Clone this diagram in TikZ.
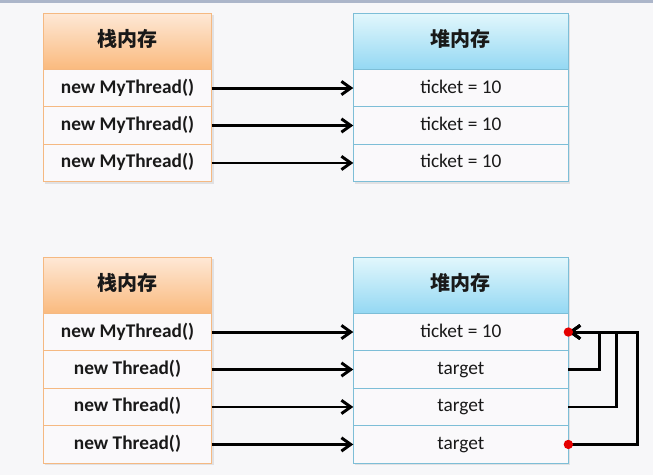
\documentclass[tikz,border=0pt]{standalone}
\usepackage{fontspec}
\setmainfont{Carlito}
\newfontfamily\cjk{Noto Sans CJK SC}
\usetikzlibrary{arrows.meta,positioning,shadows}
\definecolor{stackline}{RGB}{245,185,130}
\definecolor{stacktop}{RGB}{254,232,214}
\definecolor{stackbot}{RGB}{250,186,126}
\definecolor{heapline}{RGB}{125,190,215}
\definecolor{heaptop}{RGB}{226,247,252}
\definecolor{heapbot}{RGB}{148,216,243}
\definecolor{cellfill}{RGB}{250,249,251}
\definecolor{pagebg}{RGB}{247,247,249}
\definecolor{topbar}{RGB}{172,182,202}
\definecolor{txt}{RGB}{25,25,25}

\begin{document}
\begin{tikzpicture}[
            x=0.75pt, y=-0.75pt,
            cell/.style={rectangle, fill=cellfill, line width=0.8pt, inner sep=0pt, outer sep=0pt, minimum height=28.1pt, text height=10.5pt, text depth=3pt, text=txt, font=\fontsize{14.5}{17}\selectfont, drop shadow={opacity=0.18, shadow xshift=1.5pt, shadow yshift=-1.5pt}},
            stackhead/.style={cell, draw=stackline, top color=stacktop, bottom color=stackbot, minimum width=126.3pt, minimum height=42pt, font=\cjk\bfseries\fontsize{15}{17}\selectfont},
            stackcell/.style={cell, draw=stackline, minimum width=126.3pt, font=\bfseries\fontsize{14.5}{17}\selectfont},
            heaphead/.style={cell, draw=heapline, top color=heaptop, bottom color=heapbot, minimum width=161.3pt, minimum height=42pt, font=\cjk\bfseries\fontsize{15}{17}\selectfont},
            heapcell/.style={cell, draw=heapline, minimum width=161.3pt},
            arrow/.style={-{Straight Barb[length=7pt,width=10pt]}, line width=2.2pt, black},
            handle/.style={circle, fill=red!90!black, inner sep=0pt, minimum size=7pt}
        ]
            \fill[pagebg] (0,0) rectangle (653,475);
            \useasboundingbox (0,0) rectangle (653,475);
            \fill[topbar] (0,0) rectangle (653,2.5);

            % first picture
            \node[stackhead] (stack1) at (127.5,41.3) {栈内存};
            \node[stackcell, below=0pt of stack1] (s1a) {new MyThread()};
            \node[stackcell, below=0pt of s1a] (s1b) {new MyThread()};
            \node[stackcell, below=0pt of s1b] (s1c) {new MyThread()};
            \node[heaphead] (heap1) at (460.8,41.3) {堆内存};
            \node[heapcell, below=0pt of heap1] (h1a) {ticket = 10};
            \node[heapcell, below=0pt of h1a] (h1b) {ticket = 10};
            \node[heapcell, below=0pt of h1b] (h1c) {ticket = 10};

            \draw[arrow] (s1a) -- (h1a);
            \draw[arrow] (s1b) -- (h1b);
            \draw[arrow] (s1c) -- (h1c);

            % second picture
            \node[stackhead] (stack2) at (127.5,285.3) {栈内存};
            \node[stackcell, below=0pt of stack2] (s2a) {new MyThread()};
            \node[stackcell, below=0pt of s2a] (s2b) {new Thread()};
            \node[stackcell, below=0pt of s2b] (s2c) {new Thread()};
            \node[stackcell, below=0pt of s2c] (s2d) {new Thread()};
            \node[heaphead] (heap2) at (460.8,285.3) {堆内存};
            \node[heapcell, below=0pt of heap2] (h2a) {ticket = 10};
            \node[heapcell, below=0pt of h2a] (h2b) {target};
            \node[heapcell, below=0pt of h2b] (h2c) {target};
            \node[heapcell, below=0pt of h2c] (h2d) {target};

            \draw[arrow] (s2a) -- (h2a);
            \draw[arrow] (s2b) -- (h2b);
            \draw[arrow] (s2c) -- (h2c);
            \draw[arrow] (s2d) -- (h2d);

            \draw[arrow] (h2b.east) -- ++(31,0) |- (h2a.east);
            \draw[arrow] (h2c.east) -- ++(48,0) |- (h2a.east);
            \draw[arrow] (h2d.east) -- ++(69,0) |- (h2a.east);
            \node[handle] (dot1) at (h2a.east) {};
            \node[handle] (dot2) at (h2d.east) {};
        \end{tikzpicture}
\end{document}
